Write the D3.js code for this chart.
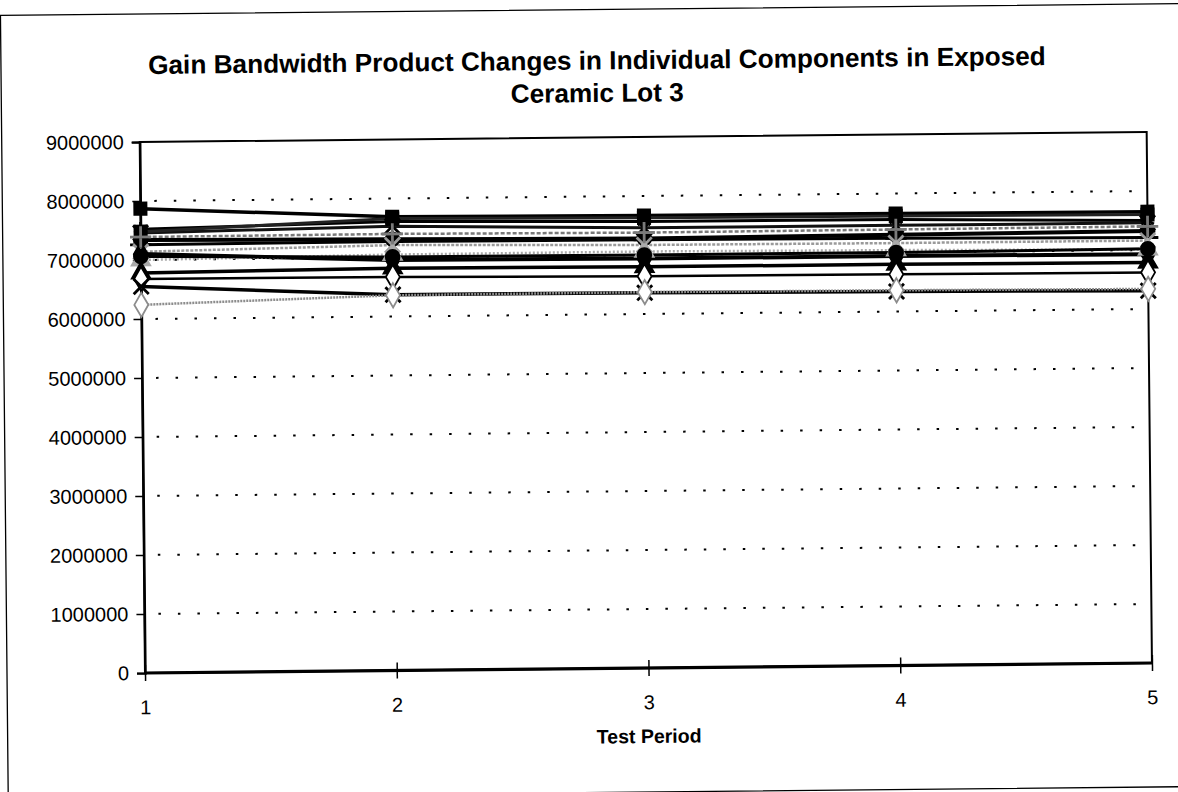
<!DOCTYPE html>
<html><head><meta charset="utf-8">
<script src="https://cdn.jsdelivr.net/npm/d3@7"></script>
<style>
body{margin:0;background:#fff}
svg{display:block}
text{font-family:"Liberation Sans",Arial,Helvetica,sans-serif;fill:#000}
</style>
</head><body>
<svg id="chart" width="1178" height="792"></svg>
<script>
// ---- data ----
const titleLines = ["Gain Bandwidth Product Changes in Individual Components in Exposed", "Ceramic Lot 3"];
const xLabel = "Test Period";
const periods = [1, 2, 3, 4, 5];
const yTickValues = [0, 1000000, 2000000, 3000000, 4000000, 5000000, 6000000, 7000000, 8000000, 9000000];
const gridValues = [1000000, 2000000, 3000000, 4000000, 5000000, 6000000, 7000000, 8000000];

const comp1  = [7870000, 7690000, 7670000, 7660000, 7650000];
const comp2  = [7520000, 7610000, 7570000, 7560000, 7500000];
const comp3  = [7460000, 7530000, 7460000, 7460000, 7460000];
const comp4  = [7340000, 7310000, 7280000, 7300000, 7320000];
const comp5  = [7260000, 7270000, 7260000, 7240000, 7210000];
const comp6  = [7140000, 7210000, 7170000, 7160000, 7160000];
const comp7  = [7100000, 6960000, 6940000, 6940000, 6930000];
const comp8  = [7000000, 7050000, 7060000, 7040000, 7010000];
const comp9  = [6780000, 6820000, 6800000, 6800000, 6790000];
const comp10 = [6680000, 6670000, 6640000, 6630000, 6620000];
const comp11 = [6550000, 6370000, 6360000, 6340000, 6310000];
const comp12 = [6240000, 6360000, 6370000, 6360000, 6340000];
const comp13 = [7480000, 7660000, 7630000, 7620000, 7600000];
const comp14 = [7390000, 7400000, 7380000, 7390000, 7400000];
const comp15 = [7060000, 7010000, 7000000, 7000000, 7020000];

const seriesValues = [comp1, comp2, comp3, comp4, comp5, comp6, comp7, comp8, comp9, comp10, comp11, comp12, comp13, comp14, comp15];

// ---- styles (kept apart from the data) ----
const seriesStyles = [
  {marker:"square",   color:"#000", width:3.5, dash:null,  fill:true},
  {marker:"asterisk", color:"#000", width:3,   dash:null,  fill:true},
  {marker:"x",        color:"#111", width:3,   dash:null,  fill:true},
  {marker:"circle",   color:"#000", width:4,   dash:null,  fill:true},
  {marker:"plus",     color:"#000", width:3,   dash:null,  fill:true},
  {marker:"x",        color:"#9a9a9a", width:2.5, dash:"3,1.5", fill:true},
  {marker:"diamond",  color:"#000", width:4,   dash:null,  fill:true},
  {marker:"triangle", color:"#aaa", width:2.5, dash:"2,2", fill:true},
  {marker:"triangle", color:"#000", width:3.5, dash:null,  fill:true},
  {marker:"diamond",  color:"#000", width:2.5, dash:null,  fill:false},
  {marker:"x",        color:"#000", width:3.5, dash:null,  fill:true},
  {marker:"diamond",  color:"#8c8c8c", width:2.5, dash:"2,1", fill:false},
  {marker:"square",   color:"#222", width:3,   dash:null,  fill:true},
  {marker:"plus",     color:"#7a7a7a", width:2.5, dash:"4,2", fill:true},
  {marker:"circle",   color:"#000", width:3,   dash:null,  fill:true}
];

// ---- layout ----
const plot = {left:145, right:1152, top:142, bottom:673};
const tilt = -0.57;

const svg = d3.select("#chart");
const root = svg.append("g").attr("transform", `rotate(${tilt},${plot.left},${plot.bottom})`);

// outer chart frame
root.append("rect").attr("x", 7).attr("y", 14).attr("width", 1190).attr("height", 783)
  .attr("fill", "none").attr("stroke", "#000").attr("stroke-width", 1.3);

const x = d3.scaleLinear().domain([1, 5]).range([plot.left, plot.right]);
const y = d3.scaleLinear().domain([0, 9000000]).range([plot.bottom, plot.top]);

// title
const title = root.append("text").attr("text-anchor", "middle")
  .attr("font-weight", "bold").attr("font-size", 26.2);
title.append("tspan").attr("x", 603).attr("y", 74).text(titleLines[0]);
title.append("tspan").attr("x", 603).attr("y", 106.5).text(titleLines[1]);

// gridlines
root.append("g").selectAll("line").data(gridValues).join("line")
  .attr("x1", plot.left + 14).attr("x2", plot.right)
  .attr("y1", d => y(d)).attr("y2", d => y(d))
  .attr("stroke", "#000").attr("stroke-width", 2)
  .attr("stroke-dasharray", "2.5,17");

// plot frame
root.append("rect").attr("x", plot.left).attr("y", plot.top)
  .attr("width", plot.right - plot.left).attr("height", plot.bottom - plot.top)
  .attr("fill", "none").attr("stroke", "#000").attr("stroke-width", 2);
root.append("line").attr("x1", plot.left).attr("x2", plot.right)
  .attr("y1", plot.bottom).attr("y2", plot.bottom)
  .attr("stroke", "#000").attr("stroke-width", 3.2);

// y axis
const yAxis = root.append("g").attr("transform", `translate(${plot.left},0)`)
  .call(d3.axisLeft(y).tickValues(yTickValues).tickSize(8).tickPadding(8).tickFormat(d3.format("d")));
yAxis.select(".domain").attr("stroke-width", 2.4);
yAxis.selectAll(".tick line").attr("stroke-width", 1.5);
yAxis.selectAll(".tick text").attr("font-size", 20).attr("font-family", '"Liberation Sans",Arial,sans-serif').attr("fill", "#000");

// x axis
const xAxis = root.append("g").attr("transform", `translate(0,${plot.bottom})`)
  .call(d3.axisBottom(x).tickValues(periods).tickSize(7).tickPadding(20).tickFormat(d3.format("d")));
xAxis.select(".domain").remove();
xAxis.selectAll(".tick line").attr("y1", -8).attr("y2", 8).attr("stroke-width", 1.5);
xAxis.selectAll(".tick text").attr("font-size", 20).attr("font-family", '"Liberation Sans",Arial,sans-serif').attr("fill", "#000");

// x axis label
root.append("text").attr("x", (plot.left + plot.right) / 2).attr("y", 748)
  .attr("text-anchor", "middle").attr("font-weight", "bold").attr("font-size", 19.5)
  .text(xLabel);

// series lines
const line = d3.line().x((d, i) => x(periods[i])).y(d => y(d));
const lines = root.append("g");
seriesValues.forEach((vals, k) => {
  const st = seriesStyles[k];
  lines.append("path").attr("d", line(vals)).attr("fill", "none")
    .attr("stroke", st.color).attr("stroke-width", st.width)
    .attr("stroke-dasharray", st.dash);
});

// markers
const symMap = {
  square: d3.symbolSquare, circle: d3.symbolCircle, diamond: d3.symbolDiamond,
  triangle: d3.symbolTriangle, plus: d3.symbolPlus || d3.symbolCross,
  x: d3.symbolX || d3.symbolCross, asterisk: d3.symbolAsterisk || d3.symbolStar
};
const strokeMarkers = {plus:true, x:true, asterisk:true};
const marks = root.append("g");
seriesValues.forEach((vals, k) => {
  const st = seriesStyles[k];
  const isStroke = strokeMarkers[st.marker] && (d3.symbolX !== undefined);
  const size = st.marker === "diamond" ? 170 : 150;
  const mcolor = (st.color === "#000" || st.color === "#111" || st.color === "#222") ? "#000" : st.color;
  marks.selectAll(null).data(vals).join("path")
    .attr("transform", (d, i) => `translate(${x(periods[i])},${y(d)})`)
    .attr("d", d3.symbol().type(symMap[st.marker]).size(size))
    .attr("fill", isStroke ? "none" : (st.fill ? mcolor : "#fff"))
    .attr("stroke", mcolor)
    .attr("stroke-width", isStroke ? 2.8 : 1.8);
});
</script>
</body></html>
